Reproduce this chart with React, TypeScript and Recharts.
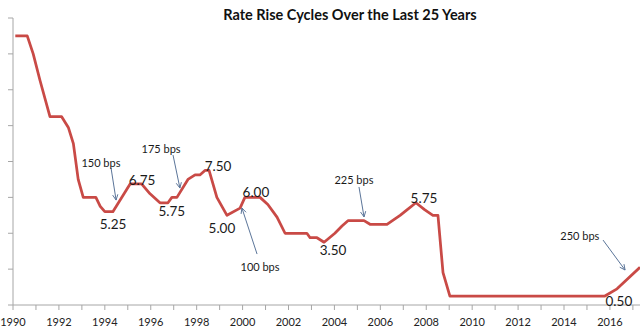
import React from "react";
import { LineChart, Line, XAxis, YAxis, ReferenceLine, ReferenceDot } from "recharts";

// cash rate path
const years = [1990.1, 1990.62, 1990.88, 1991.18, 1991.61, 1992.12, 1992.41, 1992.63, 1992.84, 1993.06, 1993.61, 1993.8, 1994.0, 1994.35, 1995.1, 1995.6, 1995.97, 1996.4, 1996.75, 1996.92, 1997.14, 1997.62, 1997.93, 1998.14, 1998.36, 1998.54, 1998.88, 1999.32, 1999.89, 2000.1, 2000.76, 2001.1, 2001.5, 2001.85, 2002.8, 2002.94, 2003.24, 2003.55, 2004.02, 2004.33, 2004.59, 2005.29, 2005.55, 2006.29, 2006.86, 2007.16, 2007.55, 2007.94, 2008.29, 2008.51, 2008.73, 2009.03, 2015.78, 2016.31, 2017.31];
const rates = [15, 15, 14, 12.5, 10.5, 10.5, 9.9, 9.0, 7.0, 6.0, 6.0, 5.5, 5.2, 5.2, 6.75, 6.75, 6.2, 5.7, 5.7, 6.0, 6.0, 7.0, 7.25, 7.25, 7.5, 7.5, 6.0, 5.0, 5.4, 6.0, 6.0, 5.6, 4.9, 4.0, 4.0, 3.75, 3.75, 3.5, 4.0, 4.4, 4.7, 4.7, 4.5, 4.5, 5.0, 5.3, 5.7, 5.3, 5.0, 5.0, 1.8, 0.5, 0.5, 0.9, 2.1];

const yearTicks = [1990, 1991, 1992, 1993, 1994, 1995, 1996, 1997, 1998, 1999, 2000, 2001, 2002, 2003, 2004, 2005, 2006, 2007, 2008, 2009, 2010, 2011, 2012, 2013, 2014, 2015, 2016, 2017];
const rateTicks = [0, 2, 4, 6, 8, 10, 12, 14, 16];

// turning point labels
const pointLabels = ["5.25", "6.75", "5.75", "7.50", "5.00", "6.00", "3.50", "5.75", "0.50"];
const pointLabelYears = [1994.36, 1995.62, 1996.92, 1998.93, 1999.1, 2000.58, 2003.94, 2007.9, 2016.39];
const pointLabelRates = [4.52, 6.97, 5.24, 7.75, 4.29, 6.3, 3.07, 5.96, 0.22];

// cycle size notes and their arrows
const bpsLabels = ["150 bps", "175 bps", "100 bps", "225 bps", "250 bps"];
const bpsYears = [1993.83, 1996.45, 2000.76, 2004.85, 2014.69];
const bpsRates = [7.92, 8.7, 2.12, 7.02, 3.9];
const arrowFrom = [[1994.27, 7.64], [1996.97, 8.36], [2000.63, 2.84], [2005.07, 6.58], [2015.7, 3.62]];
const arrowTo = [[1994.49, 5.85], [1997.27, 6.52], [1999.97, 5.41], [2005.29, 4.91], [2016.66, 1.95]];

const data = years.map((year, i) => ({ year, rate: rates[i] }));

const FONT = "Lato, 'Open Sans', sans-serif";
const ARROW = "#5b7599";

const Arrow = (props: any) => {
  const { x1, y1, x2, y2 } = props;
  const ang = Math.atan2(y2 - y1, x2 - x1);
  const len = 6;
  const a1 = [x2 - len * Math.cos(ang - 0.45), y2 - len * Math.sin(ang - 0.45)];
  const a2 = [x2 - len * Math.cos(ang + 0.45), y2 - len * Math.sin(ang + 0.45)];
  return (
    <g>
      <line x1={x1} y1={y1} x2={x2} y2={y2} stroke={ARROW} strokeWidth={1} />
      <polyline points={`${a1[0]},${a1[1]} ${x2},${y2} ${a2[0]},${a2[1]}`} fill="none" stroke={ARROW} strokeWidth={1} />
    </g>
  );
};

const textShape = (text: string, size: number) => (p: any) => (
  <text x={p.cx} y={p.cy} textAnchor="middle" dominantBaseline="central" fontSize={size} fontFamily={FONT} fill="#1a1a1a">
    {text}
  </text>
);

export default function App() {
  return (
    <div style={{ position: "absolute", left: 0, top: 0, width: 640, height: 336, overflow: "hidden", background: "#fff" }}>
      <div style={{ position: "absolute", left: 0, width: 700, top: 6, textAlign: "center", fontFamily: FONT, fontWeight: 700, fontSize: 14.5, color: "#111" }}>
        Rate Rise Cycles Over the Last 25 Years
      </div>
      <LineChart width={640} height={336} data={data} margin={{ top: 18, right: 0, left: 0, bottom: 0 }}>
        <XAxis
          dataKey="year"
          type="number"
          domain={[1990, 2017.31]}
          allowDataOverflow
          ticks={yearTicks}
          interval={0}
          tickFormatter={(v: number) => (v % 2 === 0 ? String(v) : "")}
          height={31}
          tickSize={5}
          tickMargin={8}
          stroke="#a6a6a6"
          tick={{ fontSize: 11, fill: "#222", fontFamily: FONT }}
        />
        {/* value labels sit off the left edge in the source, only the tick marks show */}
        <YAxis
          type="number"
          domain={[0, 16]}
          ticks={rateTicks}
          interval={0}
          width={13}
          tickSize={5}
          tickFormatter={() => ""}
          stroke="#a6a6a6"
        />
        <Line type="linear" dataKey="rate" stroke="#c94a46" strokeWidth={2.75} dot={false} strokeLinejoin="round" isAnimationActive={false} />
        {arrowFrom.map((f, i) => (
          <ReferenceLine
            key={"a" + i}
            segment={[{ x: f[0], y: f[1] }, { x: arrowTo[i][0], y: arrowTo[i][1] }]}
            shape={Arrow}
          />
        ))}
        {pointLabels.map((t, i) => (
          <ReferenceDot key={"p" + i} x={pointLabelYears[i]} y={pointLabelRates[i]} r={1} shape={textShape(t, 13.5)} />
        ))}
        {bpsLabels.map((t, i) => (
          <ReferenceDot key={"b" + i} x={bpsYears[i]} y={bpsRates[i]} r={1} shape={textShape(t, 11)} />
        ))}
      </LineChart>
    </div>
  );
}
